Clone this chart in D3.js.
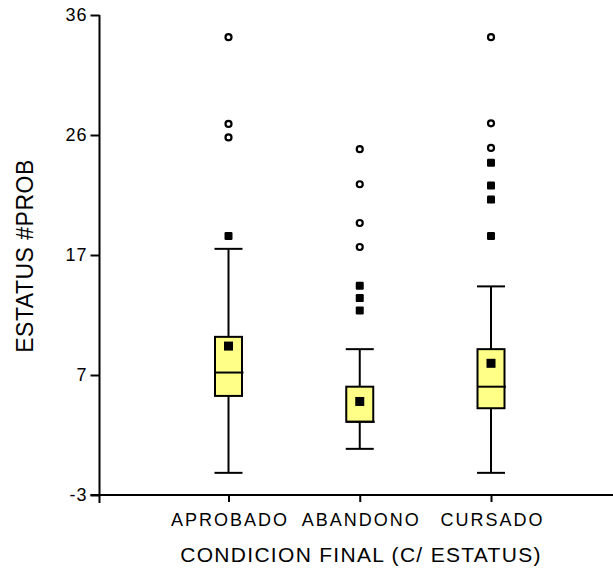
<!DOCTYPE html>
<html>
<head>
<meta charset="utf-8">
<script src="https://cdn.jsdelivr.net/npm/d3@7"></script>
<style>
  html, body { margin: 0; padding: 0; background: #fff; }
  svg { display: block; font-family: "Liberation Sans", Arial, sans-serif; }
</style>
</head>
<body>
<svg id="chart" width="613" height="569"></svg>
<script>
// ---- data ----
const categories = ["APROBADO", "ABANDONO", "CURSADO"];
const whiskerLow  = [-1.2, 0.75, -1.2];
const q1Values    = [5.05, 2.95, 4.05];
const medians     = [6.95, 2.95, 5.8];
const q3Values    = [9.85, 5.8, 8.85];
const whiskerHigh = [17.0, 8.85, 13.95];
const means       = [9.1, 4.6, 7.7];
const nearOutliers = [[18.05], [14.0, 13.0, 12.0], [24.0, 22.15, 21.0, 18.05]];
const farOutliers  = [[34.2, 27.15, 26.05], [25.1, 22.25, 19.1, 17.15], [34.2, 27.2, 25.2]];
const yTickValues = [-3, 6.75, 16.5, 26.25, 36];
const yTickLabels = ["-3", "7", "17", "26", "36"];
const xTitle = "CONDICION FINAL (C/ ESTATUS)";
const yTitle = "ESTATUS #PROB";

// ---- layout ----
const svg = d3.select("#chart");
const axisX0 = 99.5;
const y = d3.scaleLinear().domain([-3, 36]).range([495, 15]);
const x = d3.scalePoint().domain(categories).range([228.5, 491]);
const boxW = 27, capW = 28;
const FF = "Liberation Sans, Arial, sans-serif";

// y axis ticks + labels
const yAxis = d3.axisLeft(y).tickValues(yTickValues)
  .tickFormat((d, i) => yTickLabels[i]).tickSize(9).tickSizeOuter(0).tickPadding(3);
const gy = svg.append("g").attr("transform", `translate(${axisX0},0)`).call(yAxis);
gy.select(".domain").remove();
gy.selectAll(".tick line").attr("stroke", "#000").attr("stroke-width", 2);
gy.selectAll(".tick text").attr("font-size", 18).attr("fill", "#000")
  .attr("letter-spacing", "1px").attr("font-family", FF);

// x axis ticks + labels
const xAxis = d3.axisBottom(x).tickSize(7).tickSizeOuter(0).tickPadding(11);
const gx = svg.append("g").attr("transform", `translate(0,${y(-3)})`).call(xAxis);
gx.select(".domain").remove();
gx.selectAll(".tick line").attr("stroke", "#000").attr("stroke-width", 2);
gx.selectAll(".tick text").attr("font-size", 18).attr("fill", "#000")
  .attr("letter-spacing", "2px").attr("dx", "1px")
  .attr("font-family", FF);

// axis lines
svg.append("line").attr("x1", axisX0).attr("x2", axisX0)
  .attr("y1", y(36)).attr("y2", y(-3) + 8).attr("stroke", "#000").attr("stroke-width", 2);
svg.append("line").attr("x1", axisX0 - 9).attr("x2", 613)
  .attr("y1", y(-3)).attr("y2", y(-3)).attr("stroke", "#000").attr("stroke-width", 2);

// titles
svg.append("text").attr("x", 361).attr("y", 562).attr("text-anchor", "middle")
  .attr("font-size", 21).attr("letter-spacing", "1.3px").attr("fill", "#000").text(xTitle);
svg.append("text").attr("transform", "translate(33,256) rotate(-90)")
  .attr("text-anchor", "middle").attr("font-size", 23).attr("letter-spacing", "0.5px")
  .attr("fill", "#000").text(yTitle);

// boxes
const boxes = svg.append("g");
categories.forEach((c, i) => {
  const cx = x(c);
  const g = boxes.append("g");
  g.append("line").attr("x1", cx).attr("x2", cx).attr("y1", y(whiskerLow[i])).attr("y2", y(q1Values[i]))
    .attr("stroke", "#000").attr("stroke-width", 2);
  g.append("line").attr("x1", cx).attr("x2", cx).attr("y1", y(q3Values[i])).attr("y2", y(whiskerHigh[i]))
    .attr("stroke", "#000").attr("stroke-width", 2);
  [whiskerLow[i], whiskerHigh[i]].forEach(v => {
    g.append("line").attr("x1", cx - capW / 2).attr("x2", cx + capW / 2)
      .attr("y1", y(v)).attr("y2", y(v)).attr("stroke", "#000").attr("stroke-width", 2);
  });
  g.append("rect").attr("x", cx - boxW / 2).attr("width", boxW)
    .attr("y", y(q3Values[i])).attr("height", Math.max(0, y(q1Values[i]) - y(q3Values[i])))
    .attr("fill", "#ffff88").attr("stroke", "#000").attr("stroke-width", 2);
  g.append("line").attr("x1", cx - boxW / 2).attr("x2", cx + boxW / 2 + 1.5)
    .attr("y1", y(medians[i])).attr("y2", y(medians[i])).attr("stroke", "#000").attr("stroke-width", 2);
  g.append("rect").attr("x", cx - 4.5).attr("y", y(means[i]) - 4.5).attr("width", 9).attr("height", 9)
    .attr("fill", "#000");
  nearOutliers[i].forEach(v => {
    g.append("rect").attr("x", cx - 4).attr("y", y(v) - 4).attr("width", 8).attr("height", 8)
      .attr("rx", 1.2).attr("fill", "#000");
  });
  farOutliers[i].forEach(v => {
    g.append("circle").attr("cx", cx).attr("cy", y(v)).attr("r", 3)
      .attr("fill", "#fff").attr("stroke", "#000").attr("stroke-width", 2.2);
  });
});
</script>
</body>
</html>
